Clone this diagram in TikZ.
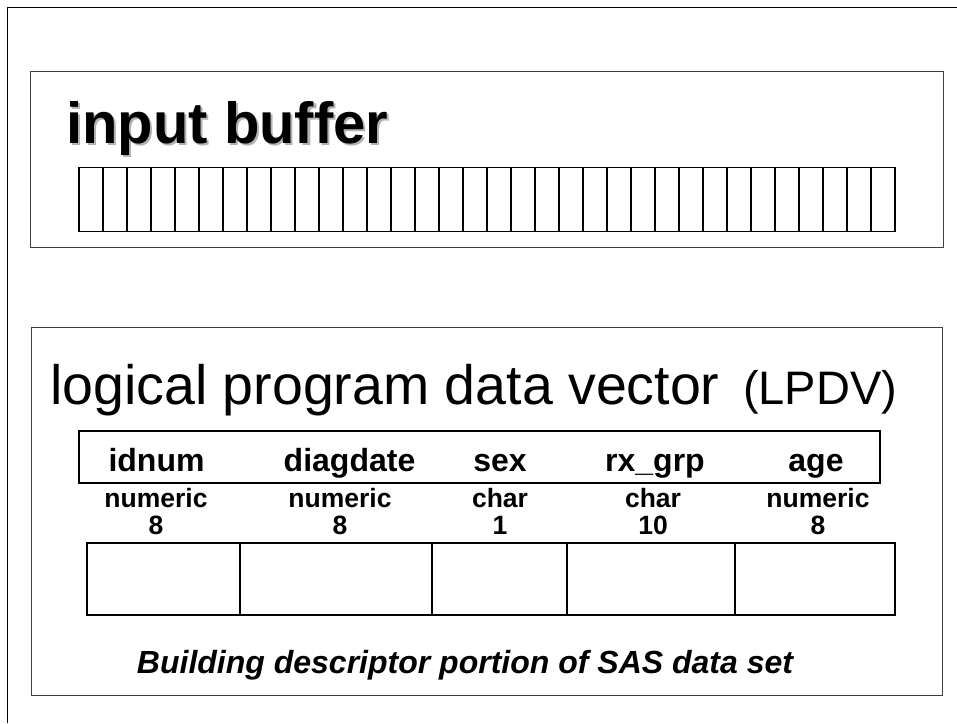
\documentclass[tikz,border=0pt]{standalone}
\usepackage{fontspec}
\setmainfont{Liberation Sans}
\usetikzlibrary{calc}

\newcommand{\shadowtext}[1]{\rlap{\kern2.2pt\raisebox{-2.2pt}{\color{black!30}#1}}#1}

\tikzset{
  frame/.style={line width=1pt,black!75},
  cellbox/.style={line width=1.2pt},
  fieldbox/.style={line width=2pt},
  head/.style={anchor=base,font=\fontsize{32}{34}\selectfont\bfseries},
  kind/.style={anchor=base,font=\fontsize{26.5}{28}\selectfont\bfseries}
}

\begin{document}
\begin{tikzpicture}[x=1pt,y=-1pt,inner sep=0pt]
\useasboundingbox (0,0) rectangle (957,723);
\draw[line width=1.5pt] (957,7.7) -- (7.7,7.7) -- (7.7,723);

\draw[frame] (30.7,71) rectangle (943,247);
\node[anchor=base west,font=\fontsize{58}{60}\selectfont\bfseries] (ib) at (66,143.3)
  {\shadowtext{input buffer}};
\foreach \i in {0,...,33}
  \draw[cellbox] (79+24*\i,167.3) rectangle ++(24,64.4);

\draw[frame] (31,327.3) rectangle (942.5,695.7);
\node[anchor=base west,font=\fontsize{55.5}{58}\selectfont] (lpdv) at (50,404)
  {logical program data vector};
\node[anchor=base west,font=\fontsize{47}{49}\selectfont] (abbr) at (743,404) {(LPDV)};
\draw[fieldbox] (78.5,431) rectangle (880,482.5);
\foreach \n/\x/\y/\v/\t/\l in {1/156.5/156/idnum/numeric/8,2/349.5/340/diagdate/numeric/8,
    3/500/500/sex/char/1,4/655/653/rx\_grp/char/10,5/816/818/age/numeric/8} {
  \node[head] (v\n) at (\x,471.5) {\v};
  \node[kind] (t\n) at (\y,507.5) {\t};
  \node[kind] (l\n) at (\y,534) {\l};
}
\draw[fieldbox] (86.5,543) rectangle (895,615);
\foreach \x in {239.6,431.5,567.3,735}
  \draw[fieldbox] (\x,543) -- (\x,615);
\node[anchor=base,font=\fontsize{32}{34}\selectfont\bfseries\itshape] (cap) at (465,673.3)
  {Building descriptor portion of SAS data set};
\end{tikzpicture}
\end{document}
